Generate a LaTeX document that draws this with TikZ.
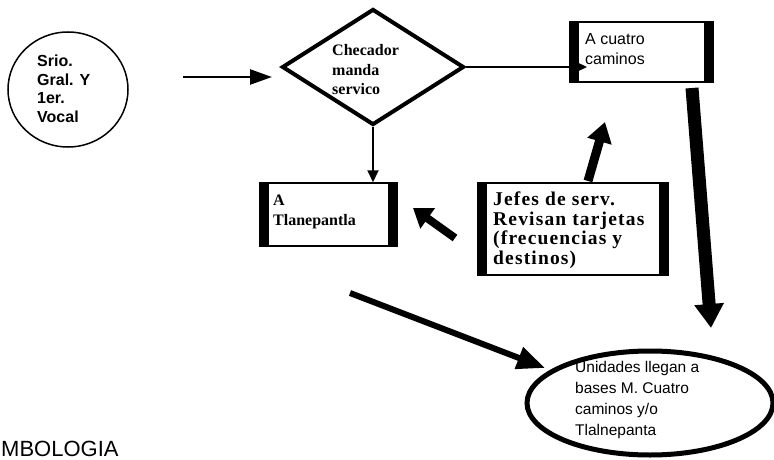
\documentclass[tikz,border=0pt]{standalone}
\usepackage{fontspec}
\setmainfont{Liberation Serif}
\newfontfamily\labelsans{Liberation Sans}
\newfontfamily\widefont[LetterSpace=6]{Liberation Serif}
\usetikzlibrary{shapes.geometric,arrows.meta}
\begin{document}
\begin{tikzpicture}[x=1pt,y=-1pt,
  procbox/.style={draw,line width=1.5pt,rectangle,inner sep=0pt},
  lbl/.style={anchor=west,align=left,inner sep=0pt},
  serifbold/.style={font=\bfseries\fontsize{#1}{19.5}\selectfont},
  sansbold/.style={font=\labelsans\bfseries\fontsize{#1}{18.5}\selectfont},
  sansplain/.style={font=\labelsans\fontsize{#1}{21}\selectfont},
  thinarrow/.style={line width=2pt,-{Triangle[length=12pt,width=11pt]}},
  fatarrow/.style={line cap=butt,-{Triangle[length=#1]}},
]
\useasboundingbox (0,0) rectangle (774,460);

% Start: ellipse with the officers
\node[ellipse,draw,line width=1.5pt,minimum width=120pt,minimum height=115pt,inner sep=0pt] (srio) at (68,89.5) {};
\node[lbl,sansbold=16] (sriotxt) at (37,89) {Srio.\\Gral. Y\\1er.\\Vocal};

% Decision diamond
\node[diamond,draw,line width=4pt,minimum width=182pt,minimum height=116pt,inner sep=0pt] (checa) at (373,67) {};
\node[lbl,serifbold=16] (checatxt) at (332,70) {Checador\\manda\\servico};

% Process boxes with black side bars
\newcommand\sidebars[2]{%
  \fill (#1.north west) rectangle ([xshift=#2]#1.south west);
  \fill (#1.north east) rectangle ([xshift=-#2]#1.south east);}

\node[procbox,minimum width=143pt,minimum height=60pt] (cuatro) at (641.5,52) {};
\sidebars{cuatro}{10pt}
\node[lbl,font=\labelsans\fontsize{16}{19.5}\selectfont] (cuatrotxt) at (585,49) {A cuatro\\caminos};

\node[procbox,minimum width=137pt,minimum height=63pt] (tlan) at (328.5,214.5) {};
\sidebars{tlan}{9.5pt}
\node[lbl,serifbold=16] (tlantxt) at (273,212) {A\\Tlanepantla};

\node[procbox,minimum width=190pt,minimum height=92pt] (jefes) at (573,229) {};
\sidebars{jefes}{10pt}
\node[lbl,font=\widefont\bfseries\fontsize{19.5}{19.5}\selectfont] (jefestxt) at (493,230) {Jefes de serv.\\Revisan tarjetas\\(frecuencias y\\destinos)};

% End: ellipse with the arrival
\node[ellipse,draw,line width=5pt,minimum width=246pt,minimum height=104pt,inner sep=0pt] (unid) at (650,403) {};
\node[lbl,sansplain=15.5] (unidtxt) at (575,400) {Unidades llegan a\\bases M. Cuatro\\caminos y/o\\Tlalnepanta};

% Legend heading
\node[anchor=base west,inner sep=0pt,font=\labelsans\fontsize{22}{26}\selectfont] (simb) at (1,456) {MBOLOGIA};

% Connector end points
\coordinate (s1) at (183,77);
\coordinate (e1) at (272,77);
\coordinate (cuatroin) at (587,65);
\coordinate (jt) at (455,238);
\coordinate (tin) at (413,208);
\coordinate (jc) at (588,181);
\coordinate (cin) at (605,122);
\coordinate (cu) at (692,88);
\coordinate (uin) at (711,328);
\coordinate (ts) at (350,293);
\coordinate (uin2) at (545,368);

% Connectors
\draw[line width=2.5pt,-{Triangle[length=22pt,width=15pt]}] (s1) -- (e1);
\draw[thinarrow] (checa.east) -- (checa.east -| cuatroin);
\draw[thinarrow] (checa.south) -- (checa.south |- tlan.north);
\draw[line width=8pt,fatarrow={18pt,width=24pt}] (jt) -- (tin);
\draw[line width=9pt,fatarrow={20pt,width=24pt}] (jc) -- (cin);
\draw[line width=13pt,fatarrow={24pt,width=28pt}] (cu) -- (uin);
\draw[line width=6pt,fatarrow={28pt,width=22pt}] (ts) -- (uin2);
\end{tikzpicture}
\end{document}
